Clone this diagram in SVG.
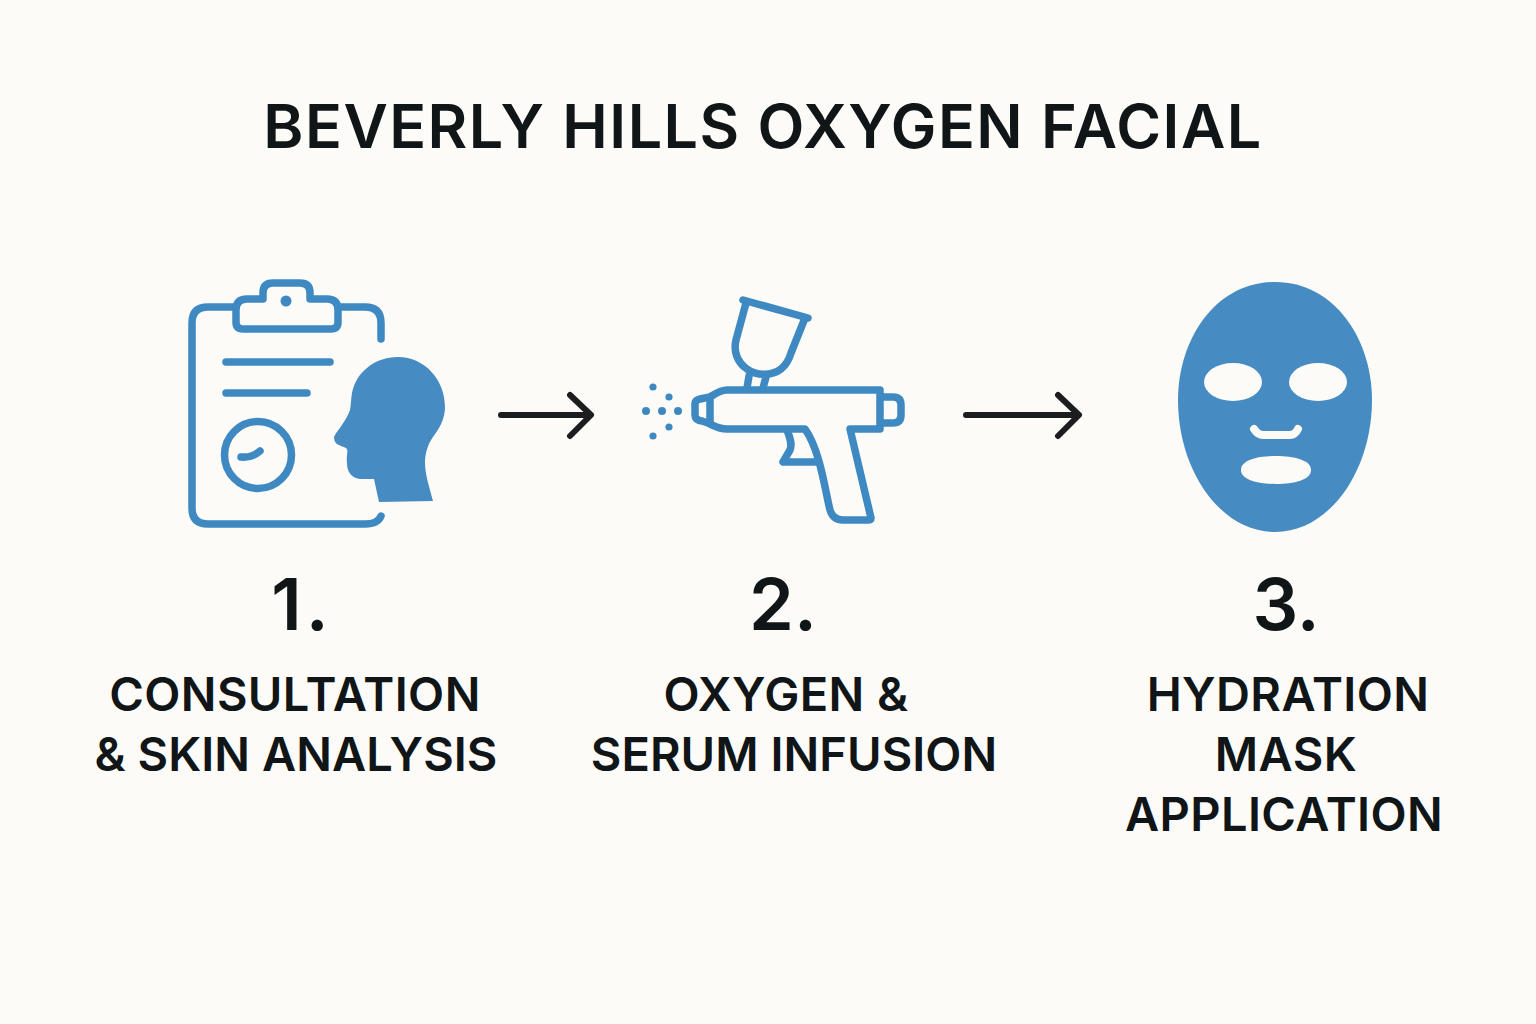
<svg xmlns="http://www.w3.org/2000/svg" width="1536" height="1024" viewBox="0 0 1536 1024">
<style>
.ln{fill:none;stroke:#3f89c2;stroke-width:7.5;stroke-linecap:round;stroke-linejoin:round}
.fl{fill:#468cc3}
.hole{fill:#fcfbf7}
.dot{fill:#3f89c2}
.t{font-family:Inter,"Liberation Sans",sans-serif;fill:#101517;text-anchor:middle}
.lbl{font-size:47px;font-weight:600;letter-spacing:0.4px}
.tight{letter-spacing:0.05px}
.num{font-size:72px;font-weight:600}
.arrow{fill:none;stroke:#1c1d1f;stroke-width:6;stroke-linecap:round;stroke-linejoin:round}
</style>
<rect width="1536" height="1024" fill="#fcfbf7"/>
<text class="t" x="763" y="148" font-size="61" font-weight="630" letter-spacing="1.45">BEVERLY HILLS OXYGEN FACIAL</text>
<g id="step1">
<path class="ln" d="M381 339V323Q381 307 365 307H338M236 307H208Q192 307 192 323V508Q192 524 208 524H365Q378 524 381 516"/>
<path class="ln" d="M263 299V293Q263 283 273 283H300Q310 283 310 293V299H327Q338 299 338 310V322Q338 329 331 329H243Q236 329 236 322V310Q236 299 247 299Z"/>
<circle class="dot" cx="286" cy="301" r="5.5"/>
<path class="ln" d="M226 362H330M226 393H307"/>
<circle class="ln" cx="258" cy="455" r="33.5"/>
<path class="ln" d="M241 457Q252 458 260 451"/>
<path class="fl" d="M398 357C425 357 445 380 445 407C445 418 440 428 433 437C428 444 425 453 425 463C425 475 430 489 433 501L379 502L374 479H360C350 478 347 470 347 463C346 455 349 450 346 448C340 445 334 445 334 437C336 432 347 420 350 410C351 405 351 398 352 393C356 372 375 357 398 357Z"/>
</g>
<g id="step2">
<path class="ln" d="M743 300L808 318M746 303L736 340C733 352 738 363 747 369C756 376 772 376 781 369C786 365 789 360 791 353L805 318M749 376L747 388M766 377L763 388"/>
<path class="ln" d="M727 390H880V429H850L871 518Q871 520 868 520H843Q833 520 830 510C825 490 820 450 805 429H727C718 429 713 425 708 423L702 421Q695 420 695 415V404Q695 400 700 399L710 397C715 394 720 390 727 390Z"/>
<path class="ln" d="M710 398V422M882 397H893Q901 397 901 405V415Q901 423 893 423H882M787 430C791 440 792 445 790 450L783 462H817"/>
<g class="dot"><circle cx="653" cy="387" r="3.6"/><circle cx="669" cy="397" r="3.6"/><circle cx="646" cy="411" r="4"/><circle cx="662" cy="411" r="4"/><circle cx="678" cy="411" r="4"/><circle cx="669" cy="427" r="3.6"/><circle cx="653" cy="436" r="3.6"/></g>
</g>
<g id="step3">
<path class="fl" d="M1275 282C1335 282 1372 340 1372 400C1372 470 1330 532 1275 532C1220 532 1178 470 1178 400C1178 340 1215 282 1275 282Z"/>
<ellipse class="hole" cx="1233" cy="382" rx="29" ry="19"/>
<ellipse class="hole" cx="1318" cy="382" rx="29" ry="19"/>
<path fill="none" stroke="#fcfbf7" stroke-width="8" stroke-linecap="round" stroke-linejoin="round" d="M1254 429Q1258 435 1263 435H1290Q1295 435 1298 429"/>
<path class="hole" d="M1241 470C1241 460 1258 456 1276 456C1294 456 1311 460 1311 470C1311 480 1294 484 1276 484C1258 484 1241 480 1241 470Z"/>
</g>
<g id="connectors">
<path class="arrow" d="M501 415H590M570 395L591 415L570 436"/>
<path class="arrow" d="M966 415H1078M1058 395L1079 415L1058 436"/>
</g>
<g id="labels">
<text class="t num" x="302" y="630" letter-spacing="4">1.</text>
<text class="t num" x="783" y="630">2.</text>
<text class="t num" x="1286" y="630">3.</text>
<text class="t lbl" x="295" y="711">CONSULTATION</text>
<text class="t lbl tight" x="296" y="771">&amp; SKIN ANALYSIS</text>
<text class="t lbl" x="786" y="711">OXYGEN &amp;</text>
<text class="t lbl tight" x="794" y="771">SERUM INFUSION</text>
<text class="t lbl" x="1288" y="711">HYDRATION</text>
<text class="t lbl" x="1286" y="771">MASK</text>
<text class="t lbl" x="1284" y="831">APPLICATION</text>
</g>
</svg>
